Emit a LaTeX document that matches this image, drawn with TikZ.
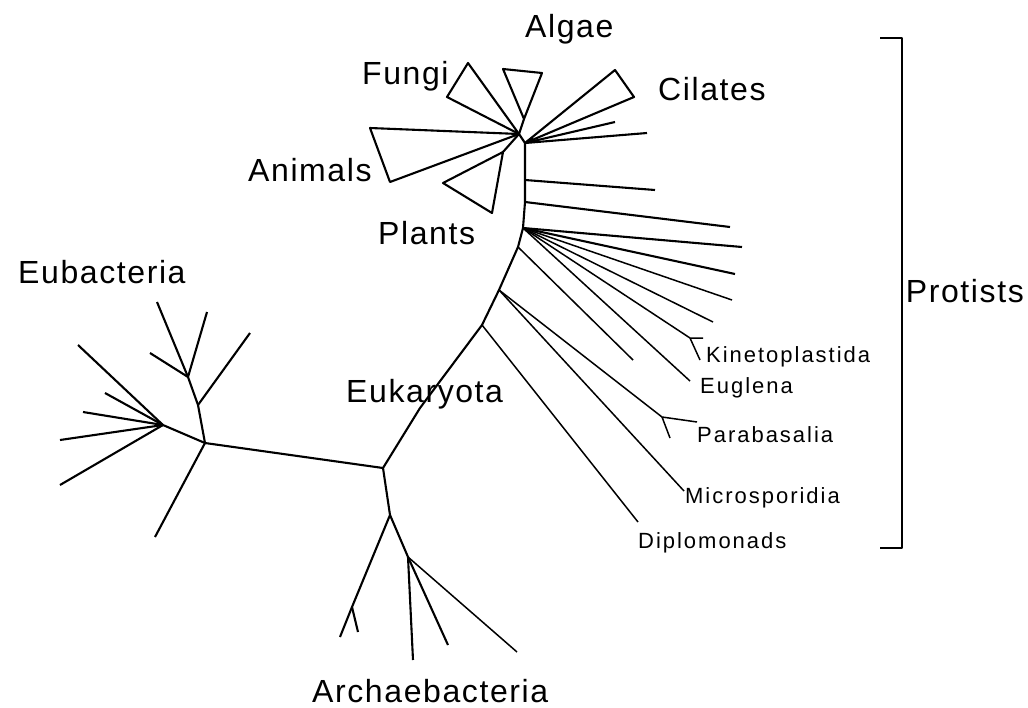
\documentclass[tikz,border=0pt]{standalone}
\usepackage{fontspec}
\setmainfont{Liberation Sans}
\newfontfamily\bigfam[LetterSpace=5]{Liberation Sans}
\newfontfamily\smallfam[LetterSpace=9]{Liberation Sans}
\usetikzlibrary{calc}

\tikzset{
  branch/.style={line width=2.1pt, line join=round},
  twig/.style={line width=1.5pt, line join=round},
  biglab/.style={inner sep=0pt, anchor=base west, font=\bigfam\fontsize{32}{34}\selectfont},
  smalllab/.style={inner sep=0pt, anchor=base west, font=\smallfam\fontsize{22}{24}\selectfont},
}

\begin{document}
\begin{tikzpicture}[x=1pt, y=-1pt]
    \useasboundingbox (0,0) rectangle (1028,707);

    % junction of the three domains
    \coordinate (E) at (383,468);

    % Eukaryota stem
    \coordinate (s1) at (420,408);
    \coordinate (s2) at (482,325);
    \coordinate (s3) at (499,290);
    \coordinate (s4) at (518,247);
    \coordinate (s5) at (523,228);
    \coordinate (s6) at (525,202);
    \coordinate (s7) at (525,180);
    \coordinate (s8) at (525,143);
    \coordinate (hub) at (519,134);
    \draw[branch] (E) -- (s1) -- (s2) -- (s3) -- (s4) -- (s5) -- (s6) -- (s7) -- (s8) -- (hub);

    % crown groups (triangles)
    \coordinate (fu1) at (468,63);
    \coordinate (fu2) at (447,97);
    \draw[branch] (hub) -- (fu1) -- (fu2) -- cycle;
    \coordinate (al0) at (524,119);
    \coordinate (al1) at (503,69);
    \coordinate (al2) at (542,73);
    \draw[branch] (hub) -- (al0) -- (al1) -- (al2) -- (al0);
    \coordinate (an1) at (370,128);
    \coordinate (an2) at (390,182);
    \draw[branch] (hub) -- (an1) -- (an2) -- cycle;
    \coordinate (pl0) at (503,152);
    \coordinate (pl1) at (443,183);
    \coordinate (pl2) at (492,213);
    \draw[branch] (hub) -- (pl0) -- (pl1) -- (pl2) -- (pl0);
    \coordinate (ci1) at (615,70);
    \coordinate (ci2) at (634,97);
    \draw[branch] (s8) -- (ci1) -- (ci2) -- cycle;

    % protist lines
    \coordinate (p1) at (615,122);
    \coordinate (p2) at (647,133);
    \coordinate (p3) at (655,190);
    \coordinate (p4) at (730,227);
    \coordinate (p5) at (742,247);
    \coordinate (p6) at (735,274);
    \coordinate (p7) at (732,300);
    \coordinate (p8) at (713,322);
    \coordinate (kin) at (690,338);
    \coordinate (eug) at (690,381);
    \coordinate (p9) at (633,360);
    \coordinate (par) at (662,417);
    \coordinate (mic) at (684,491);
    \coordinate (dip) at (638,522);
    \draw[branch] (s8) -- (p1);
    \draw[branch] (s8) -- (p2);
    \draw[branch] (s7) -- (p3);
    \draw[branch] (s6) -- (p4);
    \draw[branch] (s5) -- (p5);
    \draw[branch] (s5) -- (p6);
    \draw[twig] (s5) -- (p7);
    \draw[twig] (s5) -- (p8);
    \draw[twig] (s5) -- (kin);
    \draw[twig] (s5) -- (eug);
    \draw[twig] (s4) -- (p9);
    \draw[twig] (s3) -- (par);
    \draw[twig] (s3) -- (mic);
    \draw[twig] (s2) -- (dip);
    % small forks
    \coordinate (kin1) at (703,338);
    \coordinate (kin2) at (700,360);
    \draw[twig] (kin2) -- (kin) -- (kin1);
    \coordinate (par1) at (697,422);
    \coordinate (par2) at (670,438);
    \draw[twig] (par2) -- (par) -- (par1);

    % Eubacteria
    \coordinate (B) at (205,443);
    \coordinate (b1) at (198,405);
    \coordinate (b2) at (188,377);
    \coordinate (b3) at (163,425);
    \draw[branch] (E) -- (B) -- (b1) -- (b2) -- (157,302);
    \draw[branch] (b2) -- (207,312);
    \draw[branch] (b2) -- (150,353);
    \draw[branch] (b1) -- (250,333);
    \draw[branch] (B) -- (b3);
    \foreach \q in {(78,345),(105,393),(83,412),(60,440),(60,485)}
        \draw[branch] (b3) -- \q;
    \draw[branch] (B) -- (155,537);

    % Archaebacteria
    \coordinate (a1) at (390,515);
    \coordinate (a2) at (352,607);
    \coordinate (a3) at (408,557);
    \draw[branch] (E) -- (a1) -- (a2) -- (340,637);
    \draw[branch] (a2) -- (358,632);
    \draw[branch] (a1) -- (a3) -- (413,660);
    \draw[branch] (a3) -- (448,645);
    \draw[twig] (a3) -- (517,652);

    % Protists bracket
    \coordinate (br1) at (880,38);
    \coordinate (br2) at (880,548);
    \draw[branch] (br1) -- (902,38) -- (902,548) -- (br2);

    % labels
    \node[biglab] (algae) at (525,37) {Algae};
    \node[biglab] (fungi) at (362,84) {Fungi};
    \node[biglab] (cil) at (658,100) {Cilates};
    \node[biglab] (anim) at (248,181) {Animals};
    \node[biglab] (plants) at (378,244) {Plants};
    \node[biglab] (eubac) at (18,283) {Eubacteria};
    \node[biglab] (euk) at (346,402) {Eukaryota};
    \node[biglab] (arch) at (312,702) {Archaebacteria};
    \node[biglab, anchor=base east] (prot) at (1024,302) {Protists};
    \node[smalllab] (kinl) at (706,362) {Kinetoplastida};
    \node[smalllab] (eugl) at (700,393) {Euglena};
    \node[smalllab] (parl) at (697,442) {Parabasalia};
    \node[smalllab] (micl) at (685,503) {Microsporidia};
    \node[smalllab] (dipl) at (638,548) {Diplomonads};
\end{tikzpicture}
\end{document}
